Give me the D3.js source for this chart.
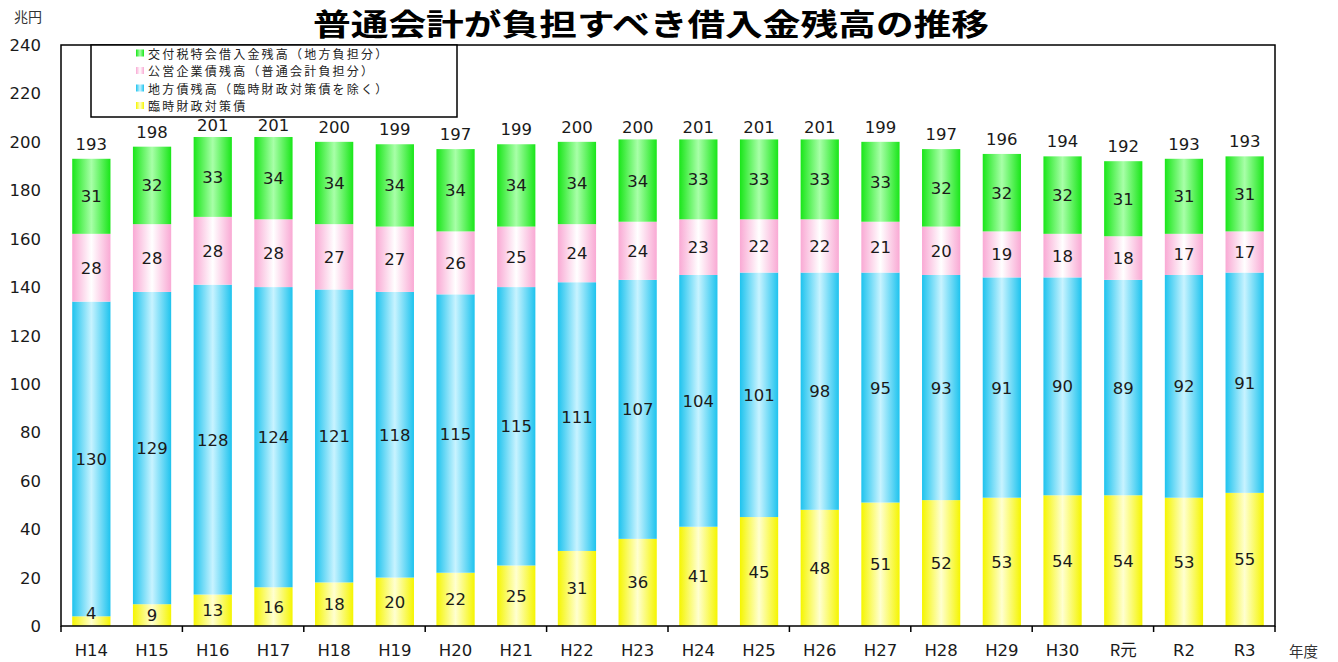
<!DOCTYPE html>
<html>
<head>
<meta charset="utf-8">
<script src="https://cdn.jsdelivr.net/npm/d3@7"></script>
<style>
body{margin:0;background:#fff;}
text{font-family:"DejaVu Sans",Verdana,sans-serif;}
.jp{font-family:"Noto Sans CJK JP","Noto Sans",sans-serif;}
</style>
</head>
<body>
<script>
const WIDTH=1338, HEIGHT=662;
const margin={left:61,right:63,top:45,bottom:36};

const years=["H14","H15","H16","H17","H18","H19","H20","H21","H22","H23","H24","H25","H26","H27","H28","H29","H30","R元","R2","R3"];
const rinji=[4,9,13,16,18,20,22,25,31,36,41,45,48,51,52,53,54,54,53,55];
const chihousai=[130,129,128,124,121,118,115,115,111,107,104,101,98,95,93,91,90,89,92,91];
const kouei=[28,28,28,28,27,27,26,25,24,24,23,22,22,21,20,19,18,18,17,17];
const koufu=[31,32,33,34,34,34,34,34,34,34,33,33,33,33,32,32,32,31,31,31];
const totals=[193,198,201,201,200,199,197,199,200,200,201,201,201,199,197,196,194,192,193,193];
const yTicks=[0,20,40,60,80,100,120,140,160,180,200,220,240];

// bottom to top
const series=[
  {key:"rinji",name:"臨時財政対策債",vals:rinji,edge:"#f5f500",mid:"#ffffd0"},
  {key:"chihou",name:"地方債残高（臨時財政対策債を除く）",vals:chihousai,edge:"#1ec3ee",mid:"#c8f3ff"},
  {key:"kouei",name:"公営企業債残高（普通会計負担分）",vals:kouei,edge:"#f9a9d4",mid:"#ffffff"},
  {key:"koufu",name:"交付税特会借入金残高（地方負担分）",vals:koufu,edge:"#19e619",mid:"#a8ffa8"}
];

const svg=d3.select("body").append("svg").attr("width",WIDTH).attr("height",HEIGHT);
const defs=svg.append("defs");
series.forEach(s=>{
  let gr=defs.append("linearGradient").attr("id","grad_"+s.key).attr("x1","0%").attr("x2","100%").attr("y1","0%").attr("y2","0%");
  gr.append("stop").attr("offset","0%").attr("stop-color",s.edge);
  gr.append("stop").attr("offset","50%").attr("stop-color",s.mid);
  gr.append("stop").attr("offset","100%").attr("stop-color",s.edge);
});

const W=WIDTH-margin.left-margin.right, H=HEIGHT-margin.top-margin.bottom;
const x=d3.scaleBand().domain(years).range([margin.left,margin.left+W]).paddingInner(0.37).paddingOuter(0.185);
const y=d3.scaleLinear().domain([0,240]).range([margin.top+H,margin.top]);

// stacked data
const rows=years.map((yr,i)=>{
  let r={year:yr};
  series.forEach(s=>r[s.key]=s.vals[i]);
  return r;
});
const stacked=d3.stack().keys(series.map(s=>s.key))(rows);

const gBars=svg.append("g");
const gLabels=svg.append("g");
stacked.forEach((layer,li)=>{
  let s=series[li];
  gBars.append("g").selectAll("rect").data(layer).enter().append("rect")
    .attr("x",(d,i)=>x(years[i]))
    .attr("width",x.bandwidth())
    .attr("y",d=>y(d[1]))
    .attr("height",d=>y(d[0])-y(d[1]))
    .attr("fill","url(#grad_"+s.key+")");
  gLabels.append("g").selectAll("text").data(layer).enter().append("text")
    .attr("x",(d,i)=>x(years[i])+x.bandwidth()/2)
    .attr("y",d=>{
      let c=(y(d[0])+y(d[1]))/2;
      if(y(d[0])-y(d[1])<18) c=y(d[0])-13;
      return c+6;
    })
    .attr("text-anchor","middle")
    .attr("font-size",16.5)
    .attr("fill","#1a1a1a")
    .text(d=>d[1]-d[0]);
});

// totals
const topLayer=stacked[stacked.length-1];
svg.append("g").selectAll("text").data(topLayer).enter().append("text")
  .attr("x",(d,i)=>x(years[i])+x.bandwidth()/2)
  .attr("y",(d,i)=>y(d[1])-(d[1]>=201?6:9))
  .attr("text-anchor","middle")
  .attr("font-size",16.5)
  .attr("fill","#1a1a1a")
  .text((d,i)=>totals[i]);

// frame
svg.append("rect").attr("x",margin.left).attr("y",margin.top).attr("width",W).attr("height",H)
  .attr("fill","none").attr("stroke","#000").attr("stroke-width",1.5);

// x ticks every two categories
const tickPos=d3.range(0,years.length+1,2).map(i=>margin.left+i*(W/years.length));
svg.append("g").selectAll("line").data(tickPos).enter().append("line")
  .attr("x1",d=>d).attr("x2",d=>d)
  .attr("y1",margin.top+H).attr("y2",margin.top+H+6)
  .attr("stroke","#000").attr("stroke-width",1.5);

// x labels
svg.append("g").selectAll("text").data(years).enter().append("text")
  .attr("class",d=>d==="R元"?"jp":null)
  .attr("x",d=>x(d)+x.bandwidth()/2)
  .attr("y",margin.top+H+30)
  .attr("text-anchor","middle")
  .attr("font-size",16.5)
  .attr("fill","#1a1a1a")
  .text(d=>d);

// y labels
svg.append("g").selectAll("text").data(yTicks).enter().append("text")
  .attr("x",41)
  .attr("y",d=>y(d)+6)
  .attr("text-anchor","end")
  .attr("font-size",16.5)
  .attr("fill","#1a1a1a")
  .text(d=>d);

// unit labels
svg.append("text").attr("class","jp").attr("x",14).attr("y",22).attr("font-size",14).attr("fill","#333").text("兆円");
svg.append("text").attr("class","jp").attr("x",1289).attr("y",657).attr("font-size",14.5).attr("fill","#333").text("年度");

// title
svg.append("text").attr("class","jp").attr("x",651).attr("y",35)
  .attr("text-anchor","middle").attr("font-size",30).attr("font-weight","bold")
  .attr("textLength",676).attr("lengthAdjust","spacingAndGlyphs")
  .text("普通会計が負担すべき借入金残高の推移");

// legend
const lg=svg.append("g");
lg.append("rect").attr("x",91).attr("y",45).attr("width",366).attr("height",72)
  .attr("fill","#fff").attr("stroke","#000").attr("stroke-width",1.5);
const legendItems=series.slice().reverse();
legendItems.forEach((s,i)=>{
  let yy=53.5+i*17.5;
  lg.append("rect").attr("x",136).attr("y",yy-4).attr("width",8).attr("height",7).attr("fill","url(#grad_"+s.key+")");
  lg.append("text").attr("class","jp").attr("x",148).attr("y",yy+5).attr("font-size",12)
    .attr("letter-spacing",2.2).attr("fill","#222").text(s.name);
});
</script>
</body>
</html>
